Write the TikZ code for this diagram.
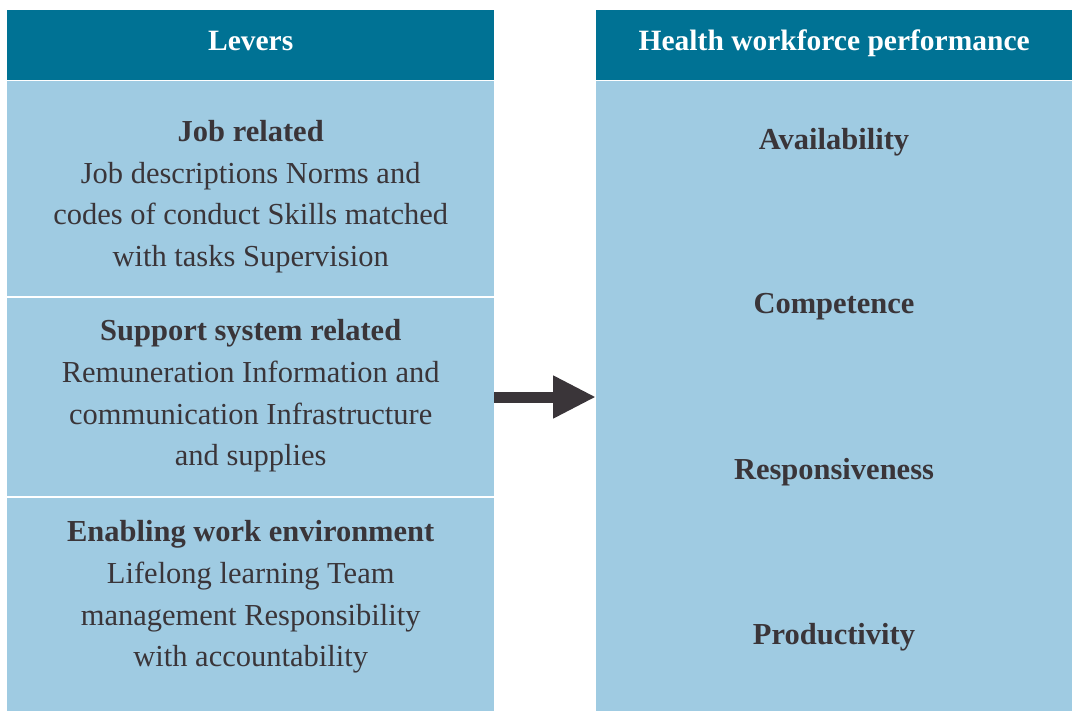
\documentclass[tikz,border=0pt]{standalone}
\usepackage{fontspec}
\setmainfont{Liberation Serif}
\usetikzlibrary{positioning,arrows.meta}
\definecolor{HeadTeal}{RGB}{0,114,148}
\definecolor{PanelBlue}{RGB}{159,203,226}
\definecolor{InkGray}{RGB}{58,53,57}
\tikzset{
  head/.style={fill=HeadTeal,text=white,font=\bfseries\fontsize{29.5}{30}\selectfont,
    minimum height=70pt,inner sep=0pt,text height=16pt,text depth=5pt},
  panel/.style={fill=PanelBlue,inner sep=0pt},
  lever/.style={text=InkGray,align=center,inner sep=0pt,font=\fontsize{30.5}{41.7}\selectfont},
  item/.style={text=InkGray,font=\bfseries\fontsize{30.5}{30}\selectfont},
  bigarrow/.style={draw=InkGray,line width=11pt,-{Triangle[length=43pt,width=40pt]}},
}

\begin{document}
\begin{tikzpicture}[x=1pt,y=-1pt]
\useasboundingbox (0,0) rectangle (1073,711);
% headers
\node[head,minimum width=487pt,anchor=north west] (levers) at (7,10) {Levers};
\node[head,minimum width=476pt,anchor=north west] (hwp) at (596,10) {Health workforce performance};
% lever groups
\node[panel,minimum width=487pt,minimum height=215pt,anchor=north] (job) at (levers.south) {};
\node[panel,minimum width=487pt,minimum height=198pt,below=2pt of job] (support) {};
\node[panel,minimum width=487pt,minimum height=213pt,below=2pt of support] (enabling) {};
\node[lever,yshift=-8.5pt] (jobtxt) at (job.center)
  {\textbf{Job related}\\Job descriptions Norms and\\codes of conduct Skills matched\\with tasks Supervision};
\node[lever,yshift=1pt] (supporttxt) at (support.center)
  {\textbf{Support system related}\\Remuneration Information and\\communication Infrastructure\\and supplies};
\node[lever,yshift=8pt] (enablingtxt) at (enabling.center)
  {\textbf{Enabling work environment}\\Lifelong learning Team\\management Responsibility\\with accountability};
% performance dimensions
\node[panel,minimum width=476pt,minimum height=630pt,anchor=north] (perf) at (hwp.south) {};
\node[item] (avail) at (834,142) {Availability};
\node[item] (comp) at (834,307) {Competence};
\node[item] (resp) at (834,472) {Responsiveness};
\node[item] (prod) at (834,637) {Productivity};
\draw[bigarrow] (support.east) -- (perf.west |- support.east);
\end{tikzpicture}
\end{document}
